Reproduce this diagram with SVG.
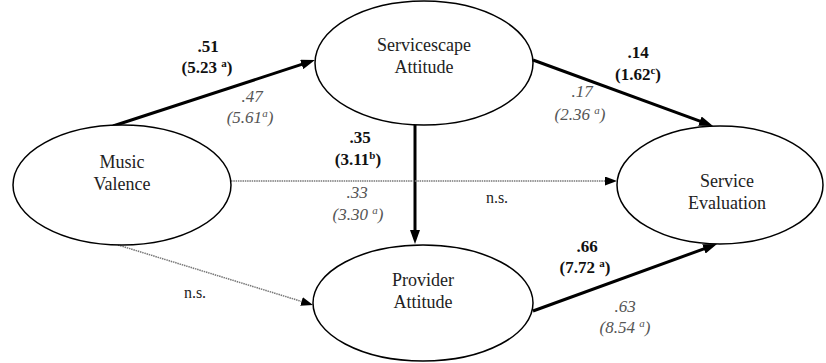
<svg xmlns="http://www.w3.org/2000/svg" width="826" height="363" viewBox="0 0 826 363" font-family="'Liberation Serif', 'Times New Roman', Times, 'DejaVu Serif', serif">
<style>
.node{fill:#fff;stroke:#000;stroke-width:1.5}
.nt{font-size:18px;fill:#222;text-anchor:middle}
.b{font-size:17px;font-weight:bold;fill:#111;text-anchor:middle}
.i{font-size:17px;font-style:italic;fill:#555;text-anchor:middle}
.ns{font-size:16px;fill:#222;text-anchor:middle}
.sup{font-size:11px}
.thick{stroke:#000;stroke-width:3;fill:none}
.dot{stroke:#777;stroke-width:1.5;stroke-dasharray:1.5 0.8;fill:none}
</style>
<defs>
<marker id="ah" markerUnits="userSpaceOnUse" markerWidth="14" markerHeight="10" refX="8" refY="5" orient="auto">
<path d="M0,0 L14,5 L0,10 z" fill="#000"/>
</marker>
<marker id="ahs" markerUnits="userSpaceOnUse" markerWidth="12" markerHeight="9" refX="6" refY="4.5" orient="auto">
<path d="M0,0 L12,4.5 L0,9 z" fill="#000"/>
</marker>
</defs>
<rect width="826" height="363" fill="#fff"/>
<g id="connectors">
<line class="thick" x1="113" y1="126" x2="309.3" y2="61.9" marker-end="url(#ah)"/>
<line class="thick" x1="533" y1="60" x2="707.4" y2="123.9" marker-end="url(#ah)"/>
<line class="thick" x1="415" y1="125" x2="415" y2="238" marker-end="url(#ah)"/>
<line class="dot" x1="231" y1="181" x2="611" y2="181" marker-end="url(#ahs)"/>
<line class="dot" x1="118" y1="245" x2="307.3" y2="303.2" marker-end="url(#ahs)"/>
<line class="thick" x1="533" y1="311" x2="711.4" y2="246.1" marker-end="url(#ah)"/>
</g>
<g id="music-valence">
<ellipse class="node" cx="122" cy="185" rx="109" ry="60"/>
<text class="nt" x="122" y="168">Music</text>
<text class="nt" x="122" y="190">Valence</text>
</g>
<g id="servicescape-attitude">
<ellipse class="node" cx="424" cy="63" rx="109" ry="62"/>
<text class="nt" x="424" y="51">Servicescape</text>
<text class="nt" x="424" y="73">Attitude</text>
</g>
<g id="provider-attitude">
<ellipse class="node" cx="423" cy="303" rx="110" ry="58"/>
<text class="nt" x="423" y="286">Provider</text>
<text class="nt" x="423" y="308">Attitude</text>
</g>
<g id="service-evaluation">
<ellipse class="node" cx="720" cy="185" rx="103" ry="59"/>
<text class="nt" x="727" y="187">Service</text>
<text class="nt" x="727" y="209">Evaluation</text>
</g>
<g id="labels">
<text class="b" x="208" y="52">.51</text>
<text class="b" x="207" y="73">(5.23 <tspan class="sup" baseline-shift="super">a</tspan>)</text>
<text class="i" x="252" y="102">.47</text>
<text class="i" x="250" y="123">(5.61<tspan class="sup" baseline-shift="super">a</tspan>)</text>
<text class="b" x="360" y="143">.35</text>
<text class="b" x="358" y="165">(3.11<tspan class="sup" baseline-shift="super">b</tspan>)</text>
<text class="i" x="357" y="198">.33</text>
<text class="i" x="358" y="220">(3.30 <tspan class="sup" baseline-shift="super">a</tspan>)</text>
<text class="ns" x="497" y="203">n.s.</text>
<text class="b" x="638" y="58">.14</text>
<text class="b" x="638" y="80">(1.62<tspan class="sup" baseline-shift="super">c</tspan>)</text>
<text class="i" x="582" y="97">.17</text>
<text class="i" x="580" y="120">(2.36 <tspan class="sup" baseline-shift="super">a</tspan>)</text>
<text class="b" x="587" y="252">.66</text>
<text class="b" x="585" y="273">(7.72 <tspan class="sup" baseline-shift="super">a</tspan>)</text>
<text class="i" x="625" y="312">.63</text>
<text class="i" x="625" y="333">(8.54 <tspan class="sup" baseline-shift="super">a</tspan>)</text>
<text class="ns" x="195" y="298">n.s.</text>
</g>
</svg>
